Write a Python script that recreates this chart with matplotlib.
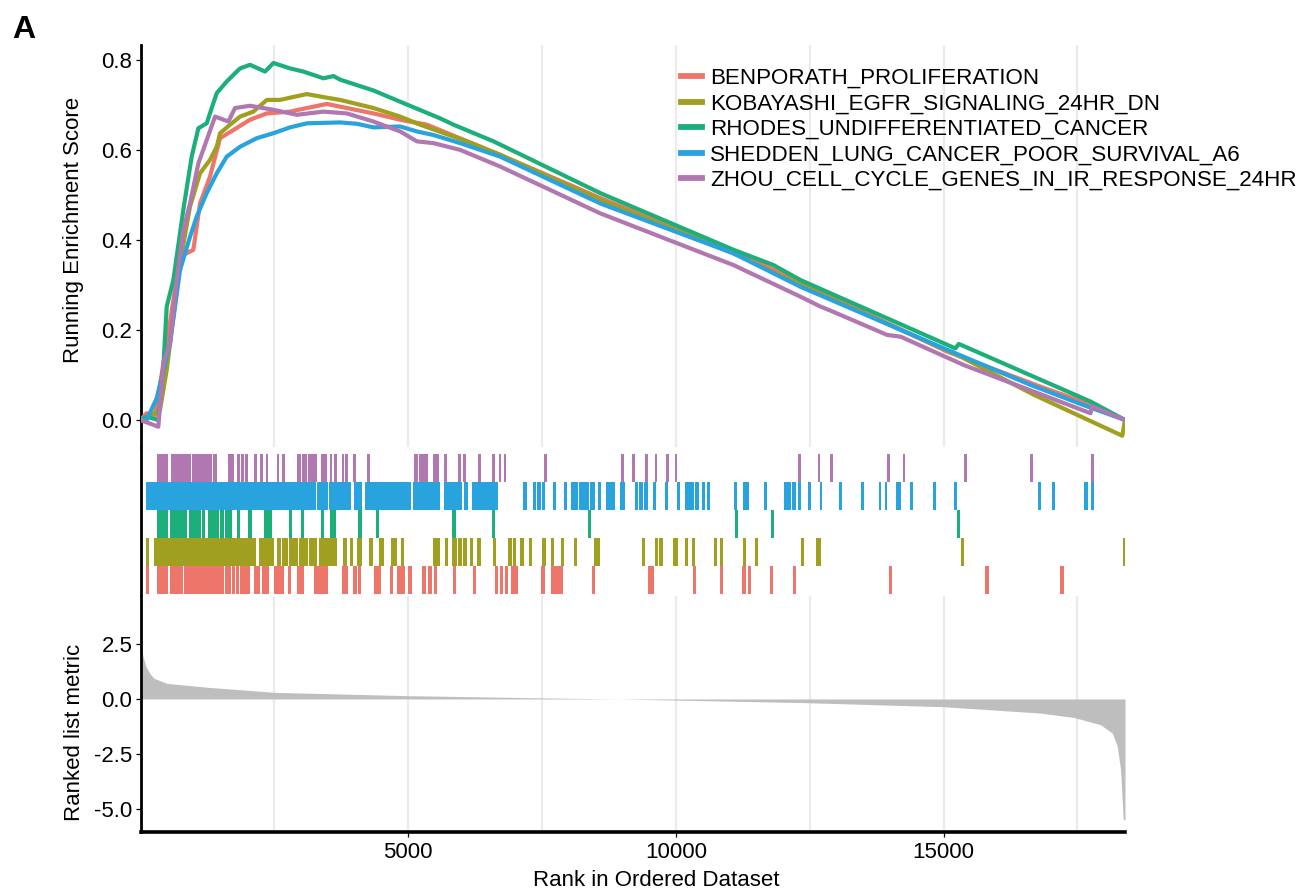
import numpy as np
import matplotlib.pyplot as plt
from matplotlib.lines import Line2D

plt.rcParams['font.family'] = ['Liberation Sans', 'DejaVu Sans']

n_genes = 18390

set_names = ["BENPORATH_PROLIFERATION",
             "KOBAYASHI_EGFR_SIGNALING_24HR_DN",
             "RHODES_UNDIFFERENTIATED_CANCER",
             "SHEDDEN_LUNG_CANCER_POOR_SURVIVAL_A6",
             "ZHOU_CELL_CYCLE_GENES_IN_IR_RESPONSE_24HR"]
set_colors = ['#ED7569', '#A19F1F', '#1DAF7A', '#29A3DD', '#B077B0']

# running enrichment score (rank, score)
benporath_rank = [0, 115, 271, 490, 738, 987, 1112, 1299, 1486, 1735, 2046, 2359, 2794, 3106, 3480,
                  3854, 4351, 4850, 5349, 6719, 8588, 11079, 12326, 15068, 16812, 17685, 18390]
benporath_es = [0, 0.015, 0.011, 0.170, 0.363, 0.378, 0.481, 0.541, 0.626, 0.644, 0.667, 0.681, 0.685, 0.693, 0.702,
                0.693, 0.681, 0.667, 0.656, 0.589, 0.493, 0.374, 0.307, 0.152, 0.074, 0.037, 0.0]

kobayashi_rank = [0, 115, 364, 490, 738, 925, 1112, 1299, 1424, 1486, 1673, 1860, 2108, 2359, 2607, 2794, 3106,
                  3480, 3729, 4351, 4850, 5224, 6097, 6719, 8588, 11079, 12326, 15316, 16687, 18339, 18390]
kobayashi_es = [0, 0.007, 0.022, 0.111, 0.348, 0.474, 0.548, 0.578, 0.607, 0.637, 0.656, 0.674, 0.685, 0.711, 0.711,
                0.716, 0.724, 0.716, 0.711, 0.693, 0.674, 0.656, 0.619, 0.589, 0.489, 0.370, 0.300, 0.141, 0.056,
                -0.035, 0.0]

rhodes_rank = [0, 115, 333, 427, 490, 614, 800, 956, 1081, 1237, 1330, 1424, 1611, 1798, 1860, 2046, 2327, 2482,
               2794, 3043, 3417, 3604, 3729, 4351, 4850, 5598, 5846, 6594, 8588, 11079, 11827, 12326, 15222,
               15285, 17746, 18390]
rhodes_es = [0, 0.007, 0.0, 0.118, 0.252, 0.311, 0.467, 0.585, 0.648, 0.659, 0.693, 0.726, 0.752, 0.774, 0.781,
             0.789, 0.774, 0.793, 0.781, 0.774, 0.759, 0.764, 0.756, 0.732, 0.707, 0.670, 0.656, 0.619, 0.504,
             0.378, 0.344, 0.311, 0.159, 0.169, 0.041, 0.0]

shedden_rank = [0, 115, 302, 551, 738, 925, 1050, 1237, 1424, 1611, 1860, 2172, 2482, 2794, 3106, 3729, 4041,
                4351, 4850, 5162, 5473, 5972, 6719, 8588, 11079, 12326, 15068, 16625, 17685, 18390]
shedden_es = [0, 0.0, 0.048, 0.170, 0.333, 0.407, 0.452, 0.504, 0.548, 0.585, 0.607, 0.626, 0.637, 0.650, 0.659,
              0.661, 0.658, 0.650, 0.652, 0.641, 0.633, 0.615, 0.585, 0.481, 0.370, 0.296, 0.156, 0.078, 0.030, 0.0]

zhou_rank = [0, 333, 427, 551, 677, 800, 925, 1081, 1237, 1393, 1642, 1766, 2046, 2482, 2920, 3417, 3854, 4351,
             4850, 5162, 5473, 5972, 6719, 8588, 11079, 12326, 12700, 12887, 13946, 14200, 15380, 16687, 17746,
             17778, 18390]
zhou_es = [0, -0.015, 0.126, 0.170, 0.311, 0.422, 0.481, 0.570, 0.622, 0.674, 0.663, 0.693, 0.698, 0.689, 0.678,
           0.685, 0.681, 0.663, 0.641, 0.619, 0.615, 0.600, 0.563, 0.459, 0.344, 0.274, 0.252, 0.243, 0.189, 0.185,
           0.122, 0.063, 0.015, 0.030, 0.0]

# gene hits as (first rank, last rank) runs
benporath_hits = [(97, 153), (303, 520), (546, 789), (819, 1566), (1579, 1611), (1622, 1686), (1716, 1766),
                  (1779, 1841), (1865, 2047), (2121, 2233), (2265, 2402), (2490, 2688), (2757, 2818), (2931, 3050),
                  (3237, 3510), (3772, 3884), (3977, 4041), (4059, 4121), (4370, 4489), (4663, 4725), (4800, 4943),
                  (5005, 5069), (5267, 5336), (5379, 5448), (5485, 5547), (5835, 5897), (6209, 6271), (6613, 6676),
                  (6706, 6770), (6813, 6874), (6925, 7050), (7485, 7547), (7672, 7734), (7747, 7809), (7822, 7884),
                  (8426, 8489), (9479, 9584), (10320, 10382), (10818, 10881), (11242, 11304), (11348, 11410),
                  (11752, 11816), (12183, 12246), (13976, 14039), (15784, 15846), (17180, 17242)]
kobayashi_hits = [(103, 159), (252, 2159), (2221, 2495), (2557, 2620), (2650, 2762), (2781, 2938), (2957, 3136),
                  (3155, 3293), (3342, 3667), (3790, 3865), (3916, 3977), (4052, 4134), (4276, 4340), (4463, 4551),
                  (4682, 4800), (4869, 4931), (5461, 5598), (5691, 5753), (5828, 5910), (5928, 6003), (6033, 6097),
                  (6158, 6220), (6295, 6358), (6583, 6644), (6874, 6938), (6956, 7018), (7093, 7155), (7256, 7317),
                  (7504, 7566), (7659, 7723), (7846, 7910), (8097, 8158), (8476, 8588), (9367, 9429), (9603, 9666),
                  (9691, 9766), (9940, 10040), (10164, 10227), (10302, 10364), (10706, 10769), (10818, 10881),
                  (11248, 11311), (11479, 11541), (12339, 12401), (12619, 12713), (15322, 15386), (18345, 18395)]
rhodes_hits = [(314, 520), (553, 877), (907, 1125), (1144, 1206), (1268, 1468), (1493, 1556), (1581, 1631),
               (1643, 1706), (1799, 1861), (2003, 2078), (2308, 2377), (2390, 2452), (2776, 2826), (3000, 3056),
               (3368, 3430), (3549, 3648), (4071, 4134), (4396, 4452), (5828, 5891), (6575, 6631), (8364, 8420),
               (11098, 11161), (11771, 11834), (15247, 15303)]
shedden_hits = [(103, 1945), (1960, 2318), (2333, 2785), (2800, 3285), (3300, 3503), (3518, 3935), (3990, 4134),
                (4196, 5056), (5087, 5598), (5672, 6003), (6046, 6115), (6190, 6687), (7136, 7211), (7323, 7387),
                (7405, 7480), (7498, 7560), (7697, 7760), (7902, 7966), (8046, 8171), (8190, 8370), (8388, 8489),
                (8545, 8607), (8700, 8855), (8949, 9055), (9229, 9292), (9317, 9379), (9397, 9472), (9566, 9629),
                (9803, 9853), (10021, 10078), (10164, 10345), (10364, 10426), (10489, 10550), (10588, 10638),
                (11079, 11135), (11255, 11367), (11640, 11696), (12014, 12158), (12171, 12246), (12283, 12339),
                (12476, 12526), (12687, 12737), (13042, 13098), (13453, 13509), (13789, 13839), (13902, 13952),
                (14115, 14214), (14376, 14432), (14799, 14862), (15199, 15255), (16756, 16817), (17023, 17086),
                (17629, 17696), (17752, 17815)]
zhou_hits = [(314, 520), (564, 944), (957, 1342), (1361, 1435), (1630, 1753), (1804, 1854), (1878, 1934),
             (1953, 2003), (2121, 2177), (2239, 2290), (2340, 2389), (2545, 2594), (2650, 2700), (2930, 2994),
             (3013, 3106), (3125, 3293), (3379, 3480), (3536, 3573), (3611, 3667), (3760, 3809), (3822, 3872),
             (3966, 4022), (4239, 4295), (5117, 5181), (5200, 5256), (5267, 5379), (5461, 5585), (5672, 5723),
             (5928, 5990), (6033, 6084), (6313, 6364), (6575, 6626), (6700, 6738), (6781, 6831), (7528, 7592),
             (8981, 9031), (9180, 9229), (9429, 9479), (9603, 9653), (9822, 9878), (9977, 10027), (12283, 12339),
             (12650, 12700), (12874, 12930), (13952, 14008), (14238, 14287), (15386, 15442), (16619, 16675),
             (17752, 17815)]

# ranked list metric (rank, value)
metric_rank = [0, 50, 103, 178, 252, 490, 1262, 2513, 5000, 7486, 8906, 9990, 12477, 14981, 15877, 16812,
               17434, 17933, 18152, 18245, 18307, 18357, 18390]
metric_value = [2.6, 1.9, 1.47, 1.15, 0.94, 0.71, 0.53, 0.30, 0.15, 0.05, 0.0, -0.05, -0.17, -0.35, -0.49, -0.64,
                -0.84, -1.17, -1.55, -2.15, -3.2, -5.48, -5.5]

es_ranks = [benporath_rank, kobayashi_rank, rhodes_rank, shedden_rank, zhou_rank]
es_scores = [benporath_es, kobayashi_es, rhodes_es, shedden_es, zhou_es]
all_hits = [benporath_hits, kobayashi_hits, rhodes_hits, shedden_hits, zhou_hits]

W, H = 1305, 893
fig = plt.figure(figsize=(W / 100, H / 100), dpi=100)
left = 140.5 / W
width = (1125 - 140.5) / W
ax1 = fig.add_axes([left, 1 - 447 / H, width, (447 - 45) / H])
ax2 = fig.add_axes([left, 1 - 596 / H, width, (596 - 447) / H])
ax3 = fig.add_axes([left, 1 - 832 / H, width, (832 - 596) / H])

grid_col = '#EBEBEB'
for ax in (ax1, ax2, ax3):
  ax.set_xlim(0, n_genes)
  ax.set_xticks([5000, 10000, 15000])
  ax.set_xticks([2500, 7500, 12500, 17500], minor=True)
  for s in ('top', 'right', 'bottom'):
    ax.spines[s].set_visible(False)
  ax.spines['left'].set_linewidth(2.0)
  ax.spines['left'].set_color('black')
  ax.tick_params(axis='x', which='both', bottom=False, labelbottom=False)
  ax.tick_params(axis='y', length=3.6, width=0.9, pad=2.2, labelsize=16, colors='black')

for ax in (ax1, ax3):
  ax.grid(axis='x', which='both', color=grid_col, linewidth=1.6, zorder=0)
  ax.set_axisbelow(True)

# top: running enrichment score
for r, es, c in zip(es_ranks, es_scores, set_colors):
  ax1.plot(r, es, color=c, linewidth=3.0, solid_joinstyle='round', solid_capstyle='butt', zorder=3)
ax1.set_ylim(-0.06, 0.833)
ax1.set_yticks([0.0, 0.2, 0.4, 0.6, 0.8])
ax1.set_yticklabels(['0.0', '0.2', '0.4', '0.6', '0.8'])

handles = [Line2D([], [], color=c, linewidth=4.2) for c in set_colors]
ax1.legend(handles, set_names, loc='upper left', bbox_to_anchor=(0.549, 0.943), frameon=False,
           fontsize=16.1, handlelength=0.95, handletextpad=0.36, labelspacing=0.2,
           borderpad=0, borderaxespad=0)

# middle: hits, bottom row first
for row, (hits, c) in enumerate(zip(all_hits, set_colors)):
  ax2.broken_barh([(s, e - s) for s, e in hits], (row, 1), facecolors=c, linewidth=0)
ax2.set_ylim(-0.07, 5.25)
ax2.set_yticks([])

# bottom: ranked list metric
ax3.fill_between(metric_rank, metric_value, 0, color='#BEBEBE', linewidth=0, zorder=2)
ax3.set_ylim(-6.045, 4.68)
ax3.set_yticks([-5.0, -2.5, 0.0, 2.5])
ax3.set_yticklabels(['-5.0', '-2.5', '0.0', '2.5'])
ax3.spines['bottom'].set_visible(True)
ax3.spines['bottom'].set_linewidth(2.6)
ax3.spines['bottom'].set_color('black')
ax3.tick_params(axis='x', which='major', bottom=True, labelbottom=True, length=3.6, width=0.9,
                pad=3.5, labelsize=16, colors='black')

fig.text(74 / W, 1 - 230 / H, 'Running Enrichment Score', rotation=90, ha='center', va='center', fontsize=16)
fig.text(74 / W, 1 - 732 / H, 'Ranked list metric', rotation=90, ha='center', va='center', fontsize=16)
fig.text(656 / W, 1 - 880 / H, 'Rank in Ordered Dataset', ha='center', va='center', fontsize=16)

fig.text(12 / W, 1 - 38 / H, 'A', fontsize=23, fontweight='bold', ha='left', va='baseline')

fig.savefig('out.png', dpi=100)
